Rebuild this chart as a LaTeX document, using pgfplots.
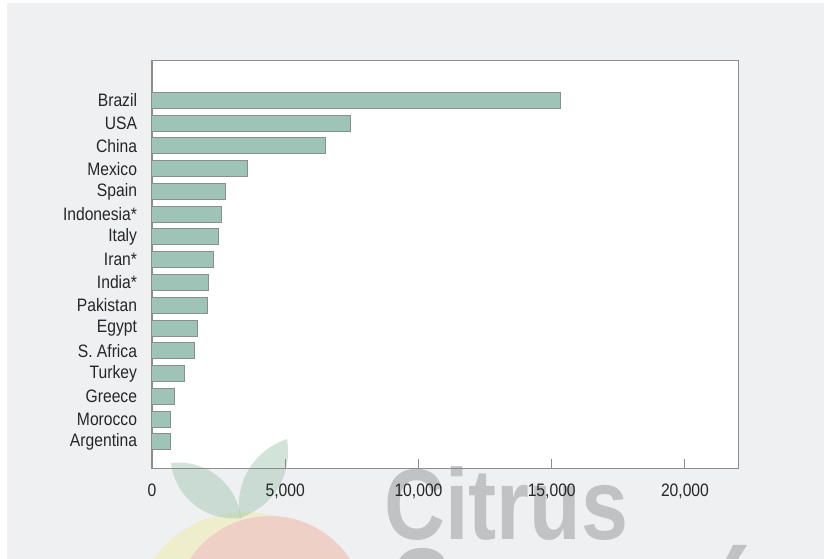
\documentclass[border=0pt]{standalone}
\usepackage{pgfplots}
\pgfplotsset{compat=1.18}
\usepackage{fontspec}
\setmainfont[FakeStretch=0.87]{Liberation Sans}
\newfontfamily\wmfont[FakeStretch=0.84]{Liberation Sans}
\definecolor{bgc}{HTML}{EFF0F2}
\definecolor{barc}{HTML}{9EC4B8}
\definecolor{bard}{HTML}{8A8E8C}
\definecolor{axc}{HTML}{8C8C8C}
\definecolor{labelc}{HTML}{262626}
\definecolor{wmgray}{HTML}{C1C2C4}
\definecolor{leafc}{HTML}{9DC2AF}
\definecolor{yelc}{HTML}{F0EEC8}
\definecolor{pinkc}{HTML}{EFCFC7}
\begin{document}
\begin{tikzpicture}
\begin{scope}[x=0.75pt,y=-0.75pt,shift={(-114pt,351.225pt)}]
  \useasboundingbox (0,0) rectangle (824,559);
  \fill[white] (0,0) rectangle (824,559);
  \fill[bgc] (7,3) rectangle (824,559);
  \fill[white] (152,60.7) rectangle (738.3,468.3);
  \begin{scope}
  \clip (7,3) rectangle (824,559);
  \fill[yelc, opacity=0.9] (245,625) circle (113);
  \fill[pinkc, opacity=0.95] (270,612) circle (96);
  \fill[leafc, opacity=0.45] (171,463) to[bend left=45] (241,518) to[bend left=45] cycle;
  \fill[leafc, opacity=0.45] (287,439) to[bend left=40] (240,518) to[bend left=40] cycle;
  \node[anchor=base west, inner sep=0, text=wmgray, font=\wmfont\bfseries\fontsize{75.4}{80}\selectfont] at (384,540) {Citrus};
  \node[anchor=base west, inner sep=0, text=wmgray, font=\wmfont\bfseries\fontsize{75.4}{80}\selectfont] at (390,619) {C};
  \fill[wmgray] (733,545) -- (747,545) -- (738,559) -- (726,559) -- cycle;
  \end{scope}
\end{scope}
\begin{axis}[
  at={(0,0)}, anchor=south west, scale only axis,
  width=439.7pt, height=305.7pt,
  xbar, bar width=12pt,
  xmin=0, xmax=22000, ymin=-1.155, ymax=16.74,
  ytick={0,...,15},
  yticklabels={Argentina,Morocco,Greece,Turkey,S. Africa,Egypt,Pakistan,India*,Iran*,Italy,Indonesia*,Spain,Mexico,China,USA,Brazil},
  xtick={0,5000,10000,15000,20000},
  scaled x ticks=false,
  /pgf/number format/1000 sep={,},
  /pgf/number format/assume math mode=true,
  tick align=inside, xtick pos=lower,
  ytick style={draw=none},
  xtick style={draw=axc, line width=0.75pt},
  major tick length=6.75pt,
  axis line style={draw=axc, line width=1pt},
  tick label style={font=\fontsize{13.5}{16}\selectfont, text=labelc},
  xticklabel style={yshift=-8.5pt},
  yticklabel style={xshift=-7.7pt},
  clip=false,
]
\addplot[fill=barc, draw=bard, line width=0.75pt] coordinates {
  (688,0) (700,1) (850,2) (1213,3) (1588,4) (1700,5) (2088,6) (2113,7)
  (2300,8) (2500,9) (2600,10) (2763,11) (3600,12) (6514,13) (7438,14) (15330,15)
};
\end{axis}
\end{tikzpicture}
\end{document}
